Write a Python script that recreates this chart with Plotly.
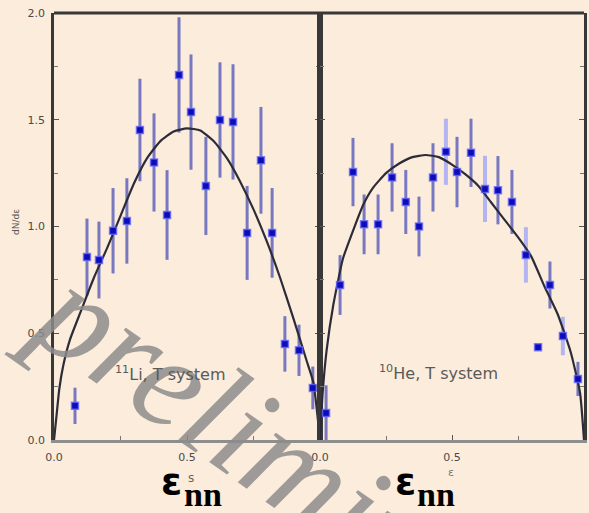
import plotly.graph_objects as go

W, H = 589, 513
BG = '#fcecdb'

# ---------------- data ----------------
# left panel: 11Li, T system
xL = [0.079, 0.124, 0.169, 0.222, 0.274, 0.323, 0.376, 0.425, 0.470, 0.515,
      0.571, 0.624, 0.673, 0.726, 0.778, 0.820, 0.868, 0.921, 0.973]
yL = [0.16, 0.857, 0.843, 0.98, 1.026, 1.452, 1.30, 1.054, 1.71, 1.536,
      1.19, 1.499, 1.49, 0.97, 1.31, 0.97, 0.45, 0.42, 0.244]
eL = [0.085, 0.18, 0.18, 0.20, 0.20, 0.24, 0.23, 0.21, 0.27, 0.27,
      0.23, 0.27, 0.27, 0.22, 0.25, 0.21, 0.13, 0.12, 0.10]

# right panel: 10He, T system (dark error bars)
xR = [0.023, 0.076, 0.125, 0.167, 0.220, 0.273, 0.325, 0.375, 0.428, 0.519,
      0.572, 0.674, 0.727, 0.871, 0.977]
yR = [0.126, 0.726, 1.255, 1.01, 1.01, 1.23, 1.115, 1.0, 1.23, 1.255,
      1.345, 1.17, 1.115, 0.726, 0.286]
eR = [0.13, 0.14, 0.16, 0.14, 0.14, 0.16, 0.15, 0.14, 0.16, 0.165,
      0.16, 0.16, 0.15, 0.11, 0.08]
# right panel points with pale error bars
xRp = [0.477, 0.625, 0.780, 0.920]
yRp = [1.35, 1.176, 0.867, 0.487]
eRp = [0.155, 0.155, 0.13, 0.09]
# right panel point without error bar
xRn = [0.826]
yRn = [0.435]

# theory curves
cLx = [0.0, 0.01, 0.02, 0.035, 0.06, 0.10, 0.15, 0.20, 0.25, 0.30, 0.35, 0.40,
       0.45, 0.50, 0.55, 0.60, 0.65, 0.70, 0.75, 0.80, 0.85, 0.90, 0.95, 0.975, 1.0]
cLy = [0.0, 0.12, 0.24, 0.35, 0.47, 0.60, 0.76, 0.90, 1.05, 1.20, 1.32, 1.40,
       1.445, 1.46, 1.45, 1.40, 1.32, 1.21, 1.08, 0.93, 0.76, 0.57, 0.37, 0.27, 0.0]
cRx = [0.0, 0.01, 0.025, 0.05, 0.087, 0.125, 0.163, 0.20, 0.25, 0.30, 0.35, 0.40,
       0.45, 0.50, 0.55, 0.60, 0.65, 0.70, 0.75, 0.80, 0.85, 0.90, 0.95, 0.985, 1.0]
cRy = [0.0, 0.22, 0.42, 0.63, 0.85, 0.98, 1.10, 1.18, 1.25, 1.295, 1.325, 1.335,
       1.325, 1.29, 1.245, 1.19, 1.11, 1.03, 0.95, 0.86, 0.72, 0.59, 0.41, 0.22, 0.0]

yticks = [0, 0.5, 1.0, 1.5, 2.0]
ytext = ['0.0', '0.5', '1.0', '1.5', '2.0']
xticksL = [0, 0.5]
xtextL = ['0.0', '0.5']
xticksR = [0, 0.5, 1.0]
xtextR = ['0.0', '0.5', '1.0']

# ---------------- styles ----------------
BAR = '#7878c0'
PALE = '#b4b4f2'
MK = dict(symbol='square', size=7, color='#0c0cb8',
          line=dict(color='rgba(100,100,255,0.75)', width=1.5))
CURVE = dict(color='#2c2c38', width=2.2, shape='spline', smoothing=0.5)

fig = go.Figure()

def bars(x, y, e, xa, ya, color, thick):
    fig.add_trace(go.Scatter(x=x, y=y, mode='markers', xaxis=xa, yaxis=ya,
                             marker=dict(size=1, color='rgba(0,0,0,0)'),
                             error_y=dict(type='data', array=e, visible=True,
                                          color=color, thickness=thick, width=0),
                             showlegend=False, hoverinfo='skip'))

bars(xL, yL, eL, 'x', 'y', BAR, 3)
bars(xR, yR, eR, 'x2', 'y2', BAR, 3)
bars(xRp, yRp, eRp, 'x2', 'y2', PALE, 4)

fig.add_trace(go.Scatter(x=cLx, y=cLy, mode='lines', line=CURVE, xaxis='x', yaxis='y',
                         showlegend=False))
fig.add_trace(go.Scatter(x=cRx, y=cRy, mode='lines', line=CURVE, xaxis='x2', yaxis='y2',
                         showlegend=False))

for x, y, xa, ya in [(xL, yL, 'x', 'y'), (xR, yR, 'x2', 'y2'),
                     (xRp, yRp, 'x2', 'y2'), (xRn, yRn, 'x2', 'y2')]:
    fig.add_trace(go.Scatter(x=x, y=y, mode='markers', marker=MK, xaxis=xa, yaxis=ya,
                             showlegend=False))

TF = dict(family='DejaVu Sans', size=11, color='#4a4a4a')
common_x = dict(range=[0, 1], ticks='inside', ticklen=5, tickcolor='#555',
                showline=True, linecolor='#8e8e8e', linewidth=3, showgrid=False,
                zeroline=False, tickfont=TF, automargin=False, ticklabelstandoff=5,
                minor=dict(dtick=0.25, tick0=0, ticks='inside', ticklen=4, tickcolor='#777'))
common_y = dict(range=[0, 2], ticks='inside', ticklen=5, tickcolor='#555',
                showline=True, linecolor='#383838', linewidth=2.5, mirror='ticks',
                showgrid=False, zeroline=False, tickfont=TF, tickvals=yticks, ticktext=ytext,
                automargin=False, ticklabelstandoff=4,
                minor=dict(dtick=0.25, tick0=0, ticks='inside', ticklen=4, tickcolor='#777'))

yd = [73 / H, 500 / H]
fig.update_layout(
    width=W, height=H, margin=dict(l=0, r=0, t=0, b=0, autoexpand=False),
    paper_bgcolor=BG, plot_bgcolor=BG, showlegend=False,
    xaxis=dict(domain=[54 / W, 320 / W], anchor='y', tickvals=xticksL, ticktext=xtextL, **common_x),
    yaxis=dict(domain=yd, anchor='x', **common_y),
    xaxis2=dict(domain=[320 / W, 584 / W], anchor='y2', tickvals=xticksR, ticktext=xtextR, **common_x),
    yaxis2=dict(domain=yd, anchor='x2', showticklabels=False, **common_y),
)

for xr, yr in [('x domain', 'y domain'), ('x2 domain', 'y2 domain')]:
    fig.add_shape(type='line', xref=xr, yref=yr, x0=0, x1=1, y0=1, y1=1,
                  line=dict(color='#383838', width=3))

def px(x, y):
    return x / W, 1 - y / H

ann = []
def add(x, y, text, **kw):
    fx, fy = px(x, y)
    d = dict(x=fx, y=fy, xref='paper', yref='paper', text=text, showarrow=False,
             xanchor='center', yanchor='middle')
    d.update(kw)
    ann.append(d)

# watermark (drawn first, under other annotations)
add(312, 478, 'preliminary', textangle=35,
    font=dict(family='Liberation Serif', size=136, color='rgba(140,140,140,0.85)', style='italic'))
# panel labels
add(170, 373, '<sup>11</sup>Li, T system', font=dict(family='DejaVu Sans', size=16, color='#5a5a5a'))
add(438, 372, '<sup>10</sup>He, T system', font=dict(family='DejaVu Sans', size=16, color='#5a5a5a'))
# small y title and x title
add(16, 222, 'dN/dε', textangle=-90, font=dict(family='DejaVu Sans', size=9, color='#555'))
add(451, 472, 'ε', font=dict(family='DejaVu Sans', size=11, color='#777'))
# big axis labels
add(171, 481, 'ε', font=dict(family='DejaVu Sans', size=38, color='#000', weight='bold'))
add(191, 478, 's', font=dict(family='DejaVu Sans', size=12, color='#666'))
add(405, 481, 'ε', font=dict(family='DejaVu Sans', size=38, color='#000', weight='bold'))
for cx in (203, 436):
    ann.append(dict(x=cx / W, y=0, xref='paper', yref='paper', text='nn', showarrow=False,
                    xanchor='center', yanchor='bottom', yshift=-2,
                    font=dict(family='Liberation Serif', size=34, color='#000', weight='bold')))

fig.update_layout(annotations=ann)
fig.write_html('out.html')
